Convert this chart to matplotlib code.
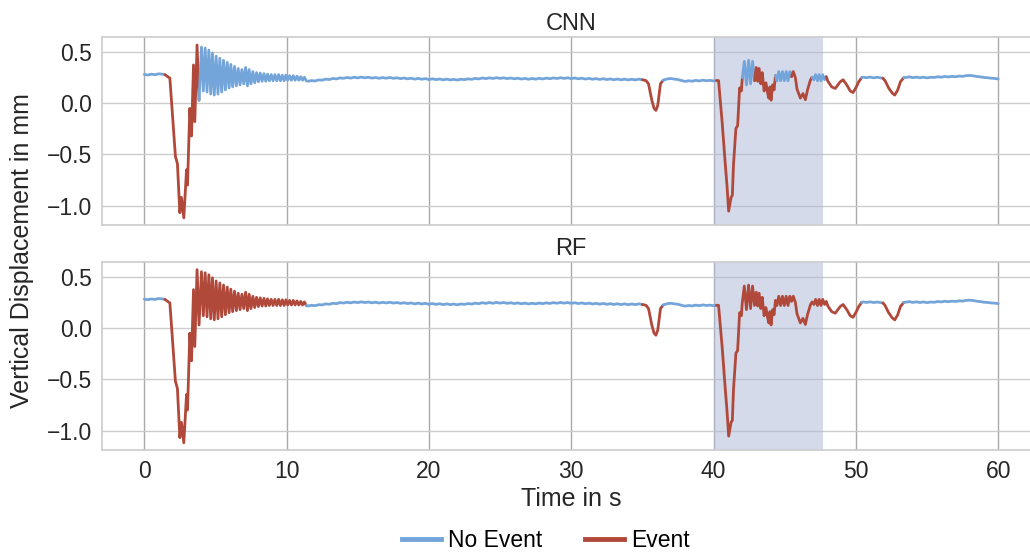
import numpy as np
import matplotlib
matplotlib.use("Agg")
import matplotlib.pyplot as plt
from matplotlib.lines import Line2D

plt.rcParams["font.family"] = ["Liberation Sans", "DejaVu Sans"]

# ---- sensor trace (time in s, vertical displacement in mm) ----
# quiet part before the first event
quiet_start_y = [0.282, 0.276, 0.284, 0.279, 0.288, 0.285]

# first drop
drop_t = [1.45, 1.8, 2.19, 2.33, 2.5, 2.61, 2.78, 2.97, 3.04, 3.2, 3.32, 3.46, 3.55, 3.71, 3.85]
drop_y = [0.28, 0.245, -0.52, -0.59, -1.07, -0.92, -1.12, -0.65, -0.80, -0.05, -0.32, 0.375, -0.18, 0.57, 0.03]

# damped ringing after the drop (alternating peaks / troughs)
ring_t = [4.02, 4.15, 4.28, 4.41, 4.54, 4.67, 4.79, 4.92, 5.05, 5.18, 5.31, 5.44, 5.57, 5.70,
          5.83, 5.96, 6.08, 6.21, 6.34, 6.47, 6.60, 6.73, 6.86, 6.99, 7.12, 7.25, 7.37, 7.50,
          7.63, 7.76, 7.89, 8.02, 8.15, 8.28, 8.41, 8.54, 8.66, 8.79, 8.92, 9.05, 9.18, 9.31,
          9.44, 9.57, 9.70, 9.83, 9.95, 10.08, 10.21, 10.34, 10.47, 10.60, 10.73, 10.86, 10.99,
          11.12, 11.25, 11.38]
ring_y = [0.55, 0.12, 0.54, 0.11, 0.52, 0.09, 0.49, 0.08, 0.46, 0.09, 0.44, 0.11, 0.42, 0.13,
          0.40, 0.15, 0.38, 0.16, 0.36, 0.17, 0.34, 0.18, 0.33, 0.19, 0.35, 0.17, 0.33, 0.19,
          0.31, 0.20, 0.30, 0.21, 0.295, 0.215, 0.29, 0.215, 0.285, 0.22, 0.28, 0.22, 0.28, 0.22,
          0.28, 0.22, 0.275, 0.22, 0.275, 0.225, 0.27, 0.225, 0.27, 0.225, 0.265, 0.225, 0.26,
          0.225, 0.255, 0.22]

# long quiet stretch 11.5 s .. 35 s, 0.25 s samples
quiet_mid_y = [0.215, 0.222, 0.218, 0.228, 0.226, 0.236, 0.232, 0.242,
               0.238, 0.248, 0.244, 0.252, 0.246, 0.254, 0.248, 0.256,
               0.249, 0.254, 0.246, 0.252, 0.244, 0.251, 0.245, 0.252,
               0.244, 0.249, 0.241, 0.247, 0.239, 0.245, 0.236, 0.243,
               0.235, 0.241, 0.232, 0.239, 0.231, 0.237, 0.229, 0.236,
               0.228, 0.234, 0.227, 0.235, 0.231, 0.239, 0.234, 0.243,
               0.238, 0.247, 0.241, 0.249, 0.242, 0.250, 0.243, 0.249,
               0.241, 0.247, 0.239, 0.245, 0.237, 0.243, 0.235, 0.242,
               0.236, 0.244, 0.238, 0.246, 0.240, 0.248, 0.242, 0.250,
               0.243, 0.249, 0.241, 0.247, 0.239, 0.245, 0.237, 0.243,
               0.235, 0.241, 0.233, 0.240, 0.232, 0.238, 0.230, 0.237,
               0.229, 0.236, 0.228, 0.235, 0.229, 0.236, 0.230]

# small dip around 36 s
dip1_t = [35.25, 35.43, 35.66, 35.82, 35.95, 36.08, 36.27, 36.46]
dip1_y = [0.222, 0.19, 0.03, -0.05, -0.07, -0.02, 0.19, 0.225]

# quiet 36.75 s .. 40 s
quiet_pre_y = [0.238, 0.242, 0.236, 0.232, 0.222, 0.214, 0.220, 0.216, 0.224, 0.218,
               0.226, 0.220, 0.224, 0.218]

# second large event 40 s .. 50.5 s
burst_t = [40.2, 40.35, 40.6, 40.82, 40.94, 41.06, 41.23, 41.32, 41.4, 41.57, 41.69, 41.83, 41.95,
           42.02, 42.16, 42.31, 42.46, 42.6, 42.74, 42.88,
           43.0, 43.1, 43.2, 43.32, 43.42, 43.55, 43.68, 43.8, 43.88, 43.96, 44.04, 44.15, 44.25, 44.35,
           44.45, 44.58, 44.71, 44.84, 44.97, 45.1, 45.23, 45.36, 45.48,
           45.6, 45.75, 45.86, 46.1, 46.28, 46.45, 46.6, 46.8, 46.92,
           47.05, 47.17, 47.3, 47.42, 47.55, 47.67, 47.8, 47.92,
           48.03, 48.3, 48.55, 48.9, 49.1, 49.38, 49.6, 49.8, 50.03, 50.2, 50.4]
burst_y = [0.222, 0.222, -0.18, -0.59, -0.80, -1.055, -0.92, -0.90, -0.60, -0.245, -0.22, 0.15, 0.12,
           0.25, 0.41, 0.18, 0.42, 0.19, 0.41, 0.22,
           0.35, 0.215, 0.34, 0.19, 0.30, 0.12, 0.20, 0.10, 0.05, 0.16, 0.03, 0.18, 0.13, 0.27,
           0.22, 0.31, 0.22, 0.31, 0.22, 0.31, 0.22, 0.31, 0.26,
           0.31, 0.25, 0.14, 0.05, 0.095, 0.035, 0.13, 0.225, 0.255,
           0.23, 0.28, 0.22, 0.28, 0.22, 0.28, 0.23, 0.26,
           0.215, 0.16, 0.145, 0.21, 0.23, 0.175, 0.12, 0.105, 0.16, 0.21, 0.25]

# quiet 50.5 s .. 51.75 s
quiet_gap_y = [0.255, 0.250, 0.256, 0.249, 0.254, 0.248]

# dip around 52.7 s
dip2_t = [51.9, 52.05, 52.3, 52.55, 52.73, 52.94, 53.13, 53.36]
dip2_y = [0.245, 0.22, 0.15, 0.10, 0.08, 0.13, 0.21, 0.25]

# quiet tail 53.5 s .. 60 s
quiet_end_y = [0.252, 0.258, 0.250, 0.256, 0.249, 0.255, 0.248, 0.254, 0.252, 0.259,
               0.255, 0.262, 0.257, 0.263, 0.259, 0.266, 0.263, 0.270, 0.272, 0.268,
               0.262, 0.258, 0.252, 0.250, 0.245, 0.243, 0.238]

# predicted event intervals (s)
cnn_events = [(1.4, 3.88), (35.1, 36.5), (40.25, 42.0), (42.9, 44.38),
              (45.45, 46.97), (47.88, 50.42), (51.85, 53.4)]
rf_events = [(1.4, 11.35), (35.1, 36.5), (40.25, 50.42), (51.85, 53.4)]

marked_window = (40.0, 47.7)

blue = "#74a5da"
red = "#b1493b"

t = np.concatenate([
    np.linspace(0.0, 1.25, len(quiet_start_y)), drop_t, ring_t,
    np.linspace(11.5, 35.0, len(quiet_mid_y)), dip1_t,
    np.linspace(36.75, 40.0, len(quiet_pre_y)), burst_t,
    np.linspace(50.5, 51.75, len(quiet_gap_y)), dip2_t,
    np.linspace(53.5, 60.0, len(quiet_end_y)),
])
y = np.concatenate([quiet_start_y, drop_y, ring_y, quiet_mid_y, dip1_y, quiet_pre_y,
                    burst_y, quiet_gap_y, dip2_y, quiet_end_y])


def draw_trace(ax, events):
    mid = (t[:-1] + t[1:]) / 2
    is_event = np.zeros(len(mid), dtype=bool)
    for a, b in events:
        is_event |= (mid >= a) & (mid <= b)
    start = 0
    for i in range(1, len(mid) + 1):
        if i == len(mid) or is_event[i] != is_event[start]:
            ax.plot(t[start:i + 1], y[start:i + 1], color=red if is_event[start] else blue,
                    lw=2.0, solid_joinstyle="round", solid_capstyle="round", zorder=3)
            start = i


fig = plt.figure(figsize=(10.30, 5.55), dpi=100)
ax1 = fig.add_axes([0.0986, 0.5937, 0.912, 0.3391])
ax2 = fig.add_axes([0.0986, 0.1883, 0.912, 0.3397], sharex=ax1)

for ax, title, events in [(ax1, "CNN", cnn_events), (ax2, "RF", rf_events)]:
    ax.axvspan(*marked_window, color="#abb7d6", alpha=0.5, lw=0, zorder=2)
    draw_trace(ax, events)
    ax.set_xlim(-3, 63)
    ax.set_ylim(-1.195, 0.645)
    ax.set_xticks([0, 10, 20, 30, 40, 50, 60])
    ax.set_yticks([-1.0, -0.5, 0.0, 0.5])
    ax.grid(axis="y", color="#cccccc", lw=1.0, zorder=0)
    ax.grid(axis="x", color="#a9a9a9", lw=1.0, zorder=0)
    ax.set_axisbelow(True)
    for s in ax.spines.values():
        s.set_color("#cccccc")
        s.set_linewidth(1.2)
    ax.tick_params(length=0, labelsize=16.5, pad=7, colors="#262626")
    ax.set_title(title, fontsize=17, color="#262626", pad=5)

ax1.tick_params(labelbottom=False)
ax2.set_xlabel("Time in s", fontsize=18, color="#262626", labelpad=3)
fig.text(0.021, 0.549, "Vertical Displacement in mm", rotation=90, fontsize=18,
         color="#262626", ha="center", va="center")

handles = [Line2D([], [], color=blue, lw=3.5), Line2D([], [], color=red, lw=3.5)]
fig.legend(handles, ["No Event", "Event"], loc="center", bbox_to_anchor=(0.53, 0.026),
           ncol=2, frameon=False, fontsize=16.5, handlelength=1.7, handletextpad=0.3,
           columnspacing=1.85)

fig.savefig("out.png", dpi=100)
